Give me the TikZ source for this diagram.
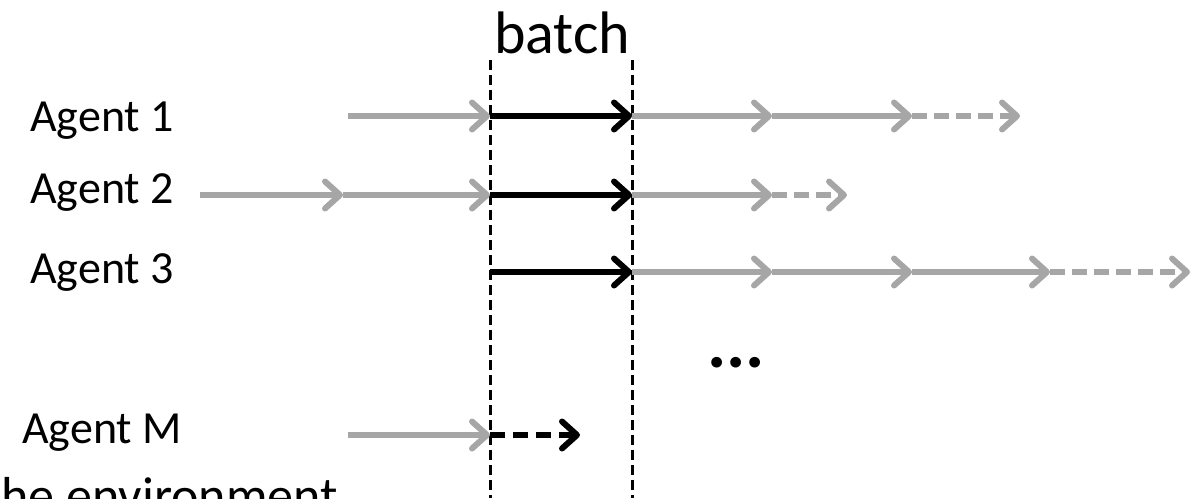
\documentclass[tikz,border=0pt]{standalone}
\usepackage{fontspec}
\setmainfont{Carlito}
\usetikzlibrary{arrows.meta}
\definecolor{past}{RGB}{166,166,166}
\tikzset{
  seg/.style={line width=6pt, -{Straight Barb[length=15pt,width=27pt,round]}},
  old/.style={seg, draw=past},
  cur/.style={seg, draw=black},
  later/.style={old, dash pattern=on 15pt off 7pt},
  curlater/.style={cur, dash pattern=on 15pt off 8pt},
  border/.style={line width=3pt, dash pattern=on 10pt off 5pt},
  agent/.style={anchor=base, font=\fontsize{46}{50}\selectfont}
}
\begin{document}
\begin{tikzpicture}[x=1pt, y=-1pt]
\useasboundingbox (0,0) rectangle (1204,498);

\node[anchor=base, font=\fontsize{60}{64}\selectfont] (batch) at (562,53) {batch};
\coordinate (lt) at (490,60); \coordinate (lb) at (490,498);
\coordinate (rt) at (632,60); \coordinate (rb) at (632,498);
\draw[border] (lt)--(lb);
\draw[border] (rt)--(rb);

\node[agent] (ag1) at (102,131) {Agent 1};
\node[agent] (ag2) at (102,203) {Agent 2};
\node[agent] (ag3) at (102,283) {Agent 3};
\node[agent] (agM) at (102,443) {Agent M};

\foreach \x [count=\i] in {348,490,632,772,912,1020}
  \coordinate (a1-\i) at (\x,116);
\foreach \x [count=\i] in {200,343,490,632,772,847}
  \coordinate (a2-\i) at (\x,195);
\foreach \x [count=\i] in {490,632,772,912,1050,1190}
  \coordinate (a3-\i) at (\x,272);
\foreach \x [count=\i] in {348,490,580}
  \coordinate (aM-\i) at (\x,435);

% agent 1
\draw[old] (a1-1)--(a1-2);
\draw[cur] (a1-2)--(a1-3);
\draw[old] (a1-3)--(a1-4);
\draw[old] (a1-4)--(a1-5);
\draw[later] (a1-5)--(a1-6);

% agent 2
\draw[old] (a2-1)--(a2-2);
\draw[old] (a2-2)--(a2-3);
\draw[cur] (a2-3)--(a2-4);
\draw[old] (a2-4)--(a2-5);
\draw[later] (a2-5)--(a2-6);

% agent 3
\draw[cur] (a3-1)--(a3-2);
\draw[old] (a3-2)--(a3-3);
\draw[old] (a3-3)--(a3-4);
\draw[old] (a3-4)--(a3-5);
\draw[later] (a3-5)--(a3-6);

% agent M
\draw[old] (aM-1)--(aM-2);
\draw[curlater] (aM-2)--(aM-3);

\node[anchor=base, font=\bfseries\fontsize{72}{76}\selectfont] (dots) at (736,367) {...};
\node[anchor=base west, font=\fontsize{52}{56}\selectfont] (env) at (-2,513) {he environment};
\end{tikzpicture}
\end{document}
